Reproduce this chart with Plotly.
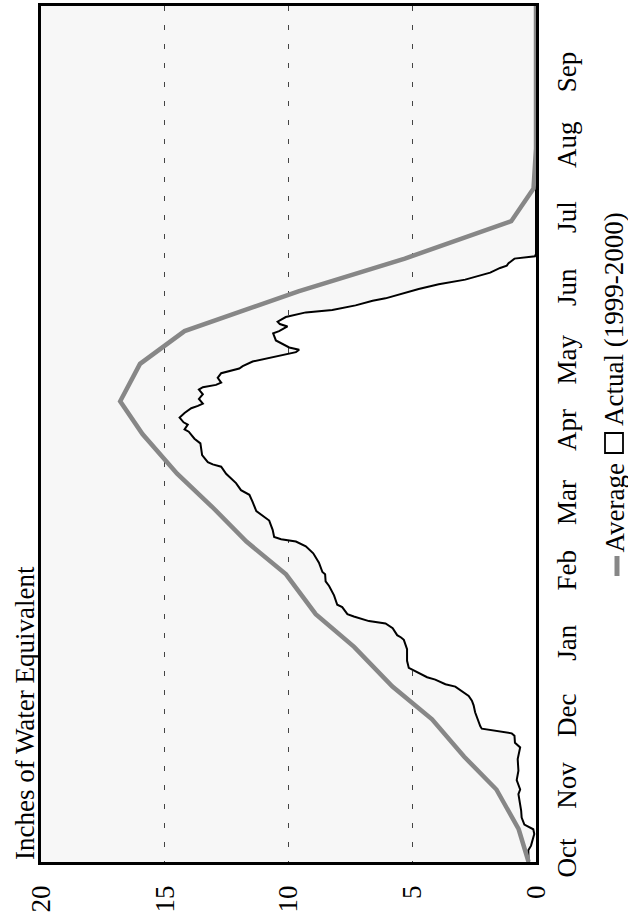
import plotly.graph_objects as go

# ---------------- data ----------------
avg_dates = ["1999-10-01", "1999-10-15", "1999-11-01", "1999-11-15", "1999-12-01",
             "1999-12-15", "2000-01-01", "2000-01-15", "2000-02-01", "2000-02-15",
             "2000-03-01", "2000-03-15", "2000-04-01", "2000-04-15", "2000-05-01",
             "2000-05-15", "2000-06-01", "2000-06-15", "2000-07-01", "2000-07-15",
             "2000-08-01", "2000-08-15", "2000-09-01", "2000-09-15", "2000-10-01"]
avg_values = [0.3, 0.7, 1.6, 2.9, 4.2, 5.8, 7.35, 8.9, 10.1, 11.7, 13.1, 14.5,
              15.9, 16.8, 16.0, 14.2, 9.6, 5.3, 1.0, 0.1, 0.0, 0.0, 0.0, 0.0, 0.0]

actual_dates = [
    "1999-10-01", "1999-10-06", "1999-10-08", "1999-10-13", "1999-10-15", "1999-10-17",
    "1999-10-20", "1999-10-23", "1999-10-30", "1999-11-01", "1999-11-05", "1999-11-09",
    "1999-11-14", "1999-11-19", "1999-11-21", "1999-11-24", "1999-11-25", "1999-11-27",
    "1999-11-28", "1999-12-02", "1999-12-04", "1999-12-07", "1999-12-09", "1999-12-11",
    "1999-12-15", "1999-12-16", "1999-12-18", "1999-12-19", "1999-12-23", "1999-12-26",
    "1999-12-31", "2000-01-04", "2000-01-05", "2000-01-06", "2000-01-09", "2000-01-11",
    "2000-01-12", "2000-01-14", "2000-01-15", "2000-01-18", "2000-01-19", "2000-01-23",
    "2000-01-27", "2000-01-29", "2000-02-01", "2000-02-02", "2000-02-06", "2000-02-10",
    "2000-02-13", "2000-02-15", "2000-02-16", "2000-02-17", "2000-02-20", "2000-02-24",
    "2000-02-26", "2000-02-28", "2000-03-03", "2000-03-06", "2000-03-08", "2000-03-11",
    "2000-03-15", "2000-03-18", "2000-03-19", "2000-03-20", "2000-03-23", "2000-03-28",
    "2000-03-30", "2000-04-02", "2000-04-03", "2000-04-05", "2000-04-06", "2000-04-08",
    "2000-04-10", "2000-04-12", "2000-04-13", "2000-04-14", "2000-04-16", "2000-04-18",
    "2000-04-20", "2000-04-21", "2000-04-22", "2000-04-23", "2000-04-25", "2000-04-27",
    "2000-04-29", "2000-04-30", "2000-05-02", "2000-05-04", "2000-05-06", "2000-05-07",
    "2000-05-08", "2000-05-11", "2000-05-14", "2000-05-15", "2000-05-17", "2000-05-18",
    "2000-05-19", "2000-05-21", "2000-05-23", "2000-05-24", "2000-05-26", "2000-05-28",
    "2000-05-29", "2000-06-02", "2000-06-04", "2000-06-06", "2000-06-09", "2000-06-11",
    "2000-06-12", "2000-06-13", "2000-06-15", "2000-06-16", "2000-06-17", "2000-10-01"]
actual_values = [
    0.30, 0.31, 0.20, 0.07, 0.11, 0.47,
    0.58, 0.60, 0.71, 0.64, 0.78, 0.71,
    0.74, 0.64, 0.85, 0.87, 0.98, 2.19,
    2.25, 2.39, 2.46, 2.52, 2.59, 2.72,
    3.26, 3.66, 4.07, 4.40, 5.14, 5.21,
    5.21, 5.34, 5.45, 5.61, 5.79, 6.08,
    6.75, 7.36, 7.62, 7.83, 8.03, 8.16,
    8.36, 8.50, 8.52, 8.63, 8.77, 9.00,
    9.30, 9.70, 10.30, 10.58, 10.64, 10.78,
    11.05, 11.30, 11.45, 11.58, 11.92, 12.12,
    12.52, 12.72, 13.06, 13.26, 13.49, 13.56,
    13.80, 14.03, 14.20, 14.07, 14.24, 14.40,
    14.20, 13.93, 13.66, 13.46, 13.62, 13.46,
    13.62, 13.46, 12.93, 12.72, 12.86, 12.72,
    11.99, 11.85, 11.45, 10.64, 9.70, 9.57,
    9.97, 10.51, 10.62, 10.38, 10.04, 10.35,
    10.44, 10.11, 9.30, 8.23, 7.29, 6.60,
    6.08, 4.74, 3.93, 2.86, 1.85, 1.45,
    1.18, 1.11, 0.87, 0.04, 0.0, 0.0]

month_ticks = ["1999-10-01", "1999-11-01", "1999-12-01", "2000-01-01", "2000-02-01",
               "2000-03-01", "2000-04-01", "2000-05-01", "2000-06-01", "2000-07-01",
               "2000-08-01", "2000-09-01"]
month_labels = ["Oct", "Nov", "Dec", "Jan", "Feb", "Mar", "Apr", "May", "Jun",
                "Jul", "Aug", "Sep"]
value_ticks = [0, 5, 10, 15, 20]

title_text = "Inches of Water Equivalent"
legend_avg = "Average"
legend_act = "Actual (1999-2000)"

# ---------------- layout geometry ----------------
W, H = 628, 915
ML, MR, MT, MB = 41, 92, 6, 53
PW, PH = W - ML - MR, H - MT - MB
FONT = "Liberation Serif"
FS = 27
GRAY = "#878787"


def px(x):
    return (x - ML) / PW


def py(y):
    return (H - MB - y) / PH


fig = go.Figure()
fig.add_trace(go.Scatter(
    x=actual_values, y=actual_dates, mode="lines",
    line=dict(color="black", width=2),
    fill="tozerox", fillcolor="white", name=legend_act, showlegend=False))
fig.add_trace(go.Scatter(
    x=avg_values, y=avg_dates, mode="lines",
    line=dict(color=GRAY, width=4.5),
    name=legend_avg, showlegend=False))

annotations = [
    dict(text=title_text, textangle=-90, xref="paper", yref="paper",
         x=px(25), y=py(713), xanchor="center", yanchor="middle",
         showarrow=False, font=dict(family=FONT, size=FS, color="black")),
    dict(text=legend_act, textangle=-90, xref="paper", yref="paper",
         x=px(614), y=py(428), xanchor="center", yanchor="bottom",
         showarrow=False, font=dict(family=FONT, size=FS, color="black")),
    dict(text=legend_avg, textangle=-90, xref="paper", yref="paper",
         x=px(614), y=py(555), xanchor="center", yanchor="bottom",
         showarrow=False, font=dict(family=FONT, size=FS, color="black")),
]
shapes = [
    dict(type="rect", xref="paper", yref="paper",
         x0=px(605), x1=px(623), y0=py(453), y1=py(433),
         line=dict(color="black", width=1.8), fillcolor="white"),
    dict(type="line", xref="paper", yref="paper",
         x0=px(617), x1=px(617), y0=py(556), y1=py(576),
         line=dict(color=GRAY, width=5)),
]

fig.update_layout(
    width=W, height=H,
    margin=dict(l=ML, r=MR, t=MT, b=MB, pad=0, autoexpand=False),
    paper_bgcolor="white", plot_bgcolor="#f7f7f7",
    font=dict(family=FONT, size=FS, color="black"),
    showlegend=False,
    annotations=annotations, shapes=shapes,
    xaxis=dict(range=[20, 0], tickvals=value_ticks, tickangle=-90, automargin=False,
               showgrid=True, gridcolor="#444444", gridwidth=1, griddash="5px,14px",
               zeroline=False, showline=True, mirror=True, linecolor="black",
               linewidth=2.5, ticks="", ticklabelstandoff=10,
               tickfont=dict(family=FONT, size=FS, color="black")),
    yaxis=dict(type="date", range=["1999-10-01", "2000-10-01"], side="right",
               automargin=False,
               tickvals=month_ticks, ticktext=month_labels, tickangle=-90,
               showgrid=False, zeroline=False, showline=True, mirror=True,
               linecolor="black", linewidth=2.5, ticks="", ticklabelstandoff=5,
               tickfont=dict(family=FONT, size=FS, color="black")),
)

fig.write_html(
    "out.html",
    config={"displayModeBar": False},
    post_script="document.body.style.margin='0';document.body.style.overflow='hidden';",
)
